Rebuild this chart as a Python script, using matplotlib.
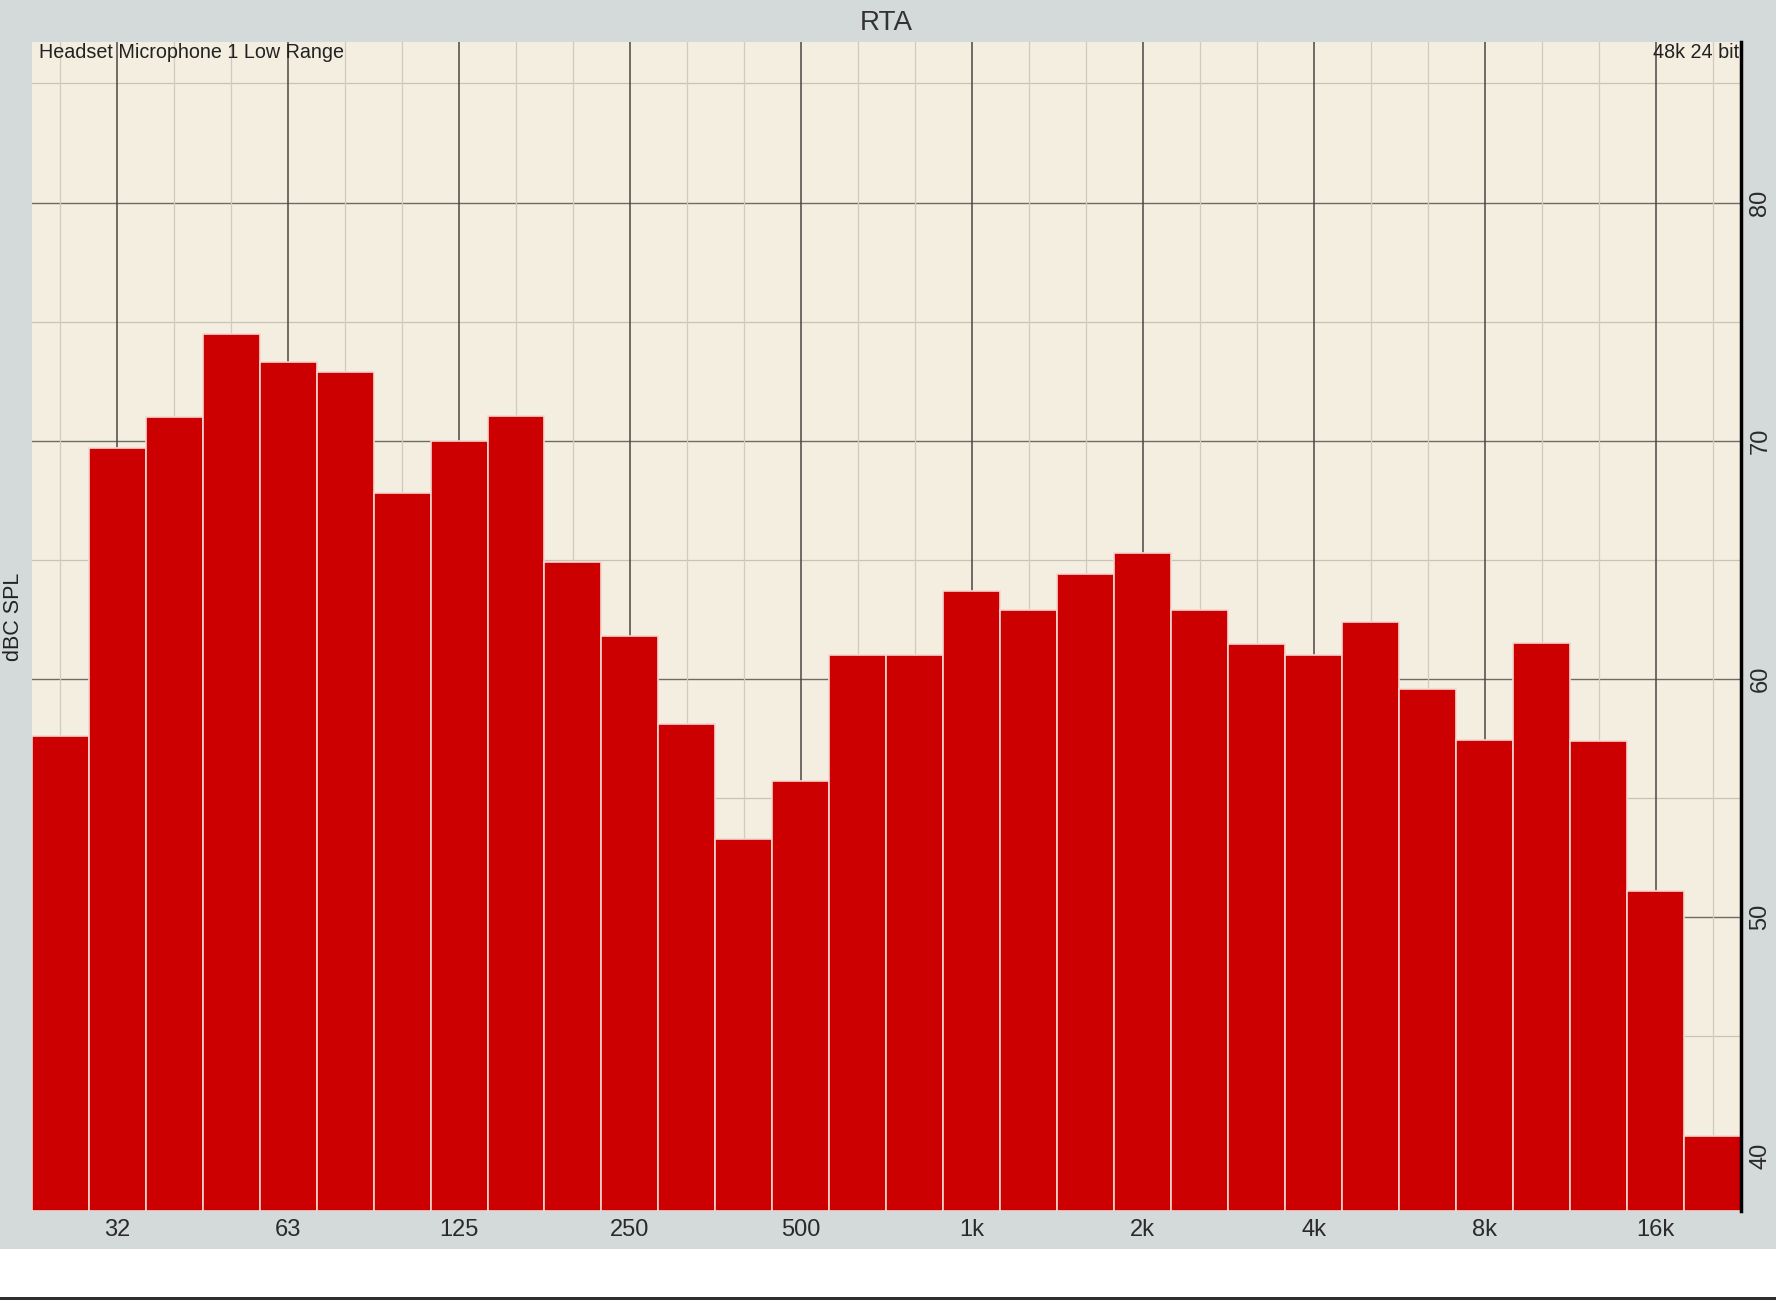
import matplotlib
matplotlib.use("Agg")
import matplotlib.pyplot as plt
from matplotlib.patches import Rectangle

plt.rcParams['font.family'] = ['Liberation Sans', 'DejaVu Sans']

# 1/3-octave bands
bands = ["25", "31.5", "40", "50", "63", "80", "100", "125", "160", "200",
         "250", "315", "400", "500", "630", "800", "1k", "1.25k", "1.6k", "2k",
         "2.5k", "3.15k", "4k", "5k", "6.3k", "8k", "10k", "12.5k", "16k", "20k"]
levels = [57.6, 69.7, 71.0, 74.5, 73.3, 72.9, 67.8, 70.0, 71.05, 64.9,
          61.8, 58.1, 53.3, 55.7, 61.0, 61.0, 63.7, 62.9, 64.4, 65.3,
          62.9, 61.45, 61.0, 62.4, 59.6, 57.45, 61.5, 57.4, 51.1, 40.8]
tick_bands = ["31.5", "63", "125", "250", "500", "1k", "2k", "4k", "8k", "16k"]
tick_labels = ["32", "63", "125", "250", "500", "1k", "2k", "4k", "8k", "16k"]
y_major = [40, 50, 60, 70, 80]
y_minor = [45, 55, 65, 75, 85]

W, H = 1776, 1300
fig = plt.figure(figsize=(W / 100, H / 100), dpi=100, facecolor='white')

# gray panel background and bottom dark line
fig.patches.append(Rectangle((0, 51 / H), 1, 1 - 51 / H, transform=fig.transFigure,
                             facecolor='#d4d9d9', edgecolor='none', zorder=-10))
fig.patches.append(Rectangle((0, 0), 1, 3 / H, transform=fig.transFigure,
                             facecolor='#2e2e2e', edgecolor='none', zorder=-10))

left, right, top, bottom = 31.7, 1741, 42, 1211
ax = fig.add_axes([left / W, (H - bottom) / H, (right - left) / W, (bottom - top) / H])
ax.set_facecolor('#f4eee1')

x = list(range(len(bands)))
ax.set_xlim(-0.5, len(bands) - 0.5)
ax.set_ylim(37.67, 86.74)

# grid
for yv in y_minor:
    ax.axhline(yv, color='#c9c2b5', lw=0.9, zorder=1)
for yv in y_major:
    ax.axhline(yv, color='#6e6a64', lw=1.0, zorder=1)
tick_pos = [bands.index(b) for b in tick_bands]
for i in x:
    if i in tick_pos:
        ax.axvline(i, color='#4a4742', lw=1.1, zorder=1)
    else:
        ax.axvline(i, color='#d2cbbd', lw=0.9, zorder=1)

ax.bar(x, [v - 37.67 for v in levels], bottom=37.67, width=1.0,
       color='#cc0000', edgecolor='#f3d6cf', linewidth=1.2, zorder=2)

ax.set_xticks(tick_pos)
ax.set_xticklabels(tick_labels, fontsize=17, color='#2a2a2a')
ax.tick_params(axis='x', length=0, pad=6)

ax.yaxis.tick_right()
ax.set_yticks(y_major)
ax.set_yticklabels([str(v) for v in y_major], rotation=90, va='center',
                   fontsize=17, color='#2a2a2a')
ax.tick_params(axis='y', length=0, pad=6)

for s in ['left', 'top', 'bottom']:
    ax.spines[s].set_visible(False)
ax.spines['right'].set_color('black')
ax.spines['right'].set_linewidth(2.5)

fig.text(886 / W, 1 - 23 / H, "RTA", ha='center', va='center',
         fontsize=20, color='#333333')
fig.text(14 / W, 1 - 617 / H, "dBC SPL", ha='center', va='center',
         rotation=90, fontsize=15.5, color='#222222')
ax.text(0.004, 1 - 10 / 1169, "Headset Microphone 1 Low Range", transform=ax.transAxes,
        ha='left', va='center', fontsize=14.2, color='#222222', zorder=5)
ax.text(0.999, 1 - 10 / 1169, "48k 24 bit", transform=ax.transAxes,
        ha='right', va='center', fontsize=14.2, color='#222222', zorder=5)

fig.savefig("out.png", dpi=100, facecolor=fig.get_facecolor())
